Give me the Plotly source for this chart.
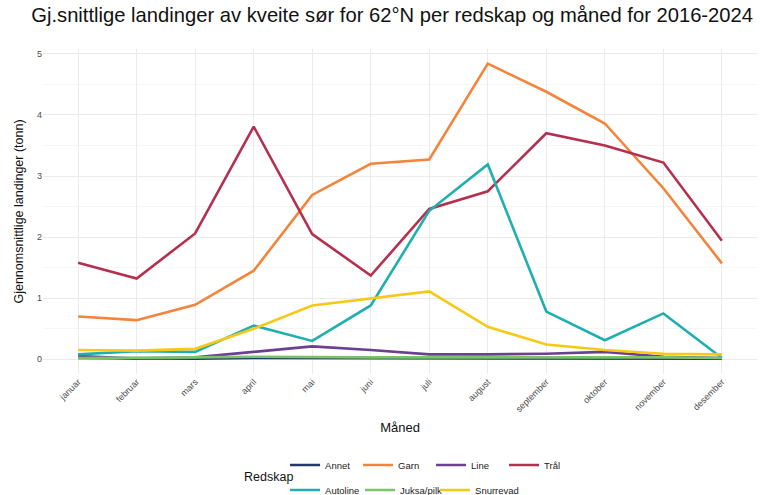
import plotly.graph_objects as go

maaneder = ["januar", "februar", "mars", "april", "mai", "juni", "juli",
            "august", "september", "oktober", "november", "desember"]

annet = [0.02, 0.01, 0.01, 0.02, 0.02, 0.01, 0.01, 0.01, 0.02, 0.01, 0.02, 0.01]
garn = [0.70, 0.64, 0.89, 1.45, 2.69, 3.20, 3.27, 4.84, 4.38, 3.86, 2.80, 1.57]
line = [0.05, 0.01, 0.03, 0.12, 0.21, 0.15, 0.08, 0.08, 0.09, 0.12, 0.04, 0.02]
tral = [1.58, 1.32, 2.06, 3.81, 2.05, 1.37, 2.46, 2.75, 3.70, 3.50, 3.22, 1.94]
autoline = [0.08, 0.13, 0.12, 0.55, 0.30, 0.88, 2.43, 3.19, 0.78, 0.31, 0.75, 0.02]
juksa = [0.02, 0.02, 0.03, 0.04, 0.03, 0.03, 0.03, 0.03, 0.04, 0.03, 0.03, 0.02]
snurrevad = [0.15, 0.14, 0.17, 0.50, 0.88, 1.00, 1.11, 0.53, 0.24, 0.15, 0.09, 0.08]

series = [
    ("Annet", annet, "#1F3A68", "legend"),
    ("Garn", garn, "#F4843A", "legend"),
    ("Line", line, "#6E3F91", "legend"),
    ("Trål", tral, "#B5304F", "legend"),
    ("Autoline", autoline, "#20AFB0", "legend2"),
    ("Juksa/pilk", juksa, "#7CC26A", "legend3"),
    ("Snurrevad", snurrevad, "#F7C914", "legend4"),
]

fig = go.Figure()
for i, (name, vals, col, lg) in enumerate(series):
    fig.add_trace(go.Scatter(x=maaneder, y=vals, mode="lines", name=name, legend=lg,
                             line=dict(color=col, width=2.6), legendrank=i + 1))

font = "Liberation Sans, Arial, sans-serif"
legend_common = dict(orientation="h", xanchor="left", yanchor="middle",
                     entrywidth=28, entrywidthmode="pixels", itemwidth=30,
                     font=dict(size=9.5, color="#222222"), traceorder="normal",
                     bgcolor="rgba(0,0,0,0)")
legend_auto = dict(orientation="h", xanchor="left", yanchor="middle", itemwidth=30,
                   font=dict(size=9.5, color="#222222"), traceorder="normal",
                   bgcolor="rgba(0,0,0,0)")
lx = 0.339
fig.update_layout(
    width=760, height=495,
    paper_bgcolor="white", plot_bgcolor="white",
    margin=dict(l=43, r=3, t=49, b=121, autoexpand=False),
    font=dict(family=font, color="#222222"),
    title=dict(text="Gj.snittlige landinger av kveite sør for 62°N per redskap og måned for 2016-2024",
               x=0.489, xref="paper", xanchor="center", y=0.985, yanchor="top",
               font=dict(size=20.2, color="#111111")),
    xaxis=dict(range=[-0.6, 11.6], tickangle=-45, showgrid=True, gridcolor="#EBEBEB",
               gridwidth=1, tickfont=dict(size=9, color="#4D4D4D"), ticks="",
               automargin=False,
               title=dict(text="Måned", font=dict(size=13, color="#111111"), standoff=9),
               zeroline=False, showline=False),
    yaxis=dict(range=[-0.242, 5.08], tickvals=[0, 1, 2, 3, 4, 5], showgrid=True,
               gridcolor="#EBEBEB", gridwidth=1, tickfont=dict(size=9, color="#4D4D4D"),
               ticks="", zeroline=False, showline=False, automargin=False,
               minor=dict(dtick=0.5, tick0=0, showgrid=True, gridcolor="#F5F5F5", gridwidth=0.6),
               title=dict(text="Gjennomsnittlige landinger (tonn)", font=dict(size=12.5, color="#111111"),
                          standoff=10)),
    legend=dict(x=lx, y=-0.28, **legend_common),
    legend2=dict(x=lx, y=-0.357, **legend_auto),
    legend3=dict(x=lx + 75 / 714, y=-0.357, **legend_auto),
    legend4=dict(x=lx + 150 / 714, y=-0.357, **legend_auto),
    annotations=[dict(text="Redskap", xref="paper", yref="paper", x=0.279, y=-0.318,
                      xanchor="left", yanchor="middle", showarrow=False,
                      font=dict(size=12.5, color="#111111"))],
)

fig.write_html("out.html", post_script="document.body.style.margin='0';",
               config={"displayModeBar": False})
